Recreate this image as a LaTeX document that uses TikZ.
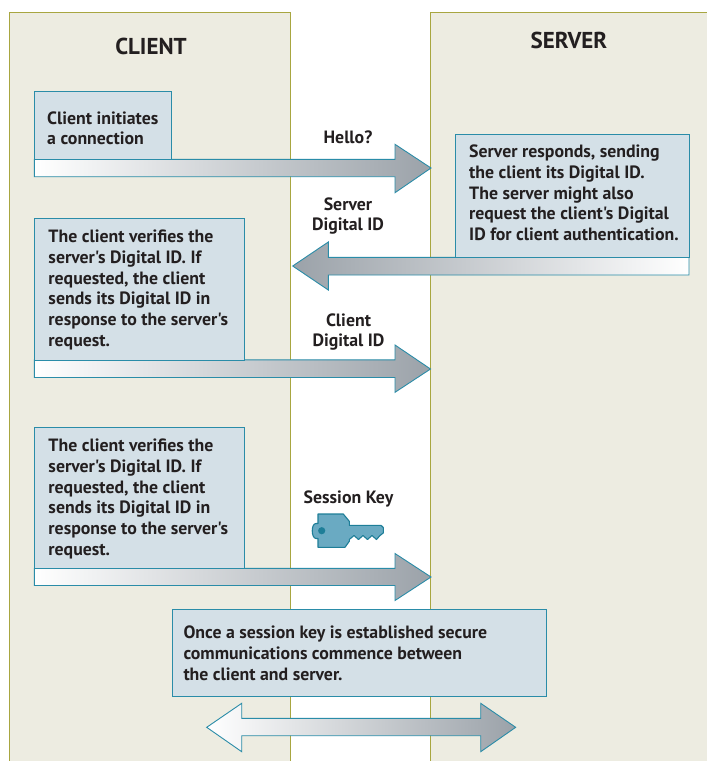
\documentclass[tikz,border=0pt]{standalone}
\usepackage{fontspec}
\defaultfontfeatures{}
\defaultfontfeatures[\rmfamily]{}
\setmainfont{PT Sans}[Ligatures=ResetAll]
\definecolor{panelfill}{HTML}{EDECE1}
\definecolor{panelline}{HTML}{A8A640}
\definecolor{boxfill}{HTML}{D4E0E7}
\definecolor{tealline}{HTML}{2A8CA8}
\definecolor{arrgray}{HTML}{9BA2A9}
\definecolor{keyfill}{HTML}{6AAAC2}
\definecolor{keyline}{HTML}{1E7E98}
\definecolor{txt}{HTML}{231F20}
\newcommand{\sq}{\symbol{"27}}
\tikzset{
  panelline/.style={draw=panelline, line width=0.9pt},
  infobox/.style={fill=boxfill, draw=tealline, line width=0.9pt, anchor=north west, inner sep=0pt},
  bodytext/.style={anchor=base west, inner sep=0pt, align=left, text=txt, font=\fontsize{17.8}{20.7}\selectfont\bfseries},
  lbltext/.style={anchor=base, inner sep=0pt, align=center, text=txt, font=\fontsize{17.8}{20.5}\selectfont\bfseries},
  headtext/.style={anchor=base, inner sep=0pt, text=txt, font=\fontsize{23}{27}\selectfont\bfseries},
  rarrow/.style={draw=tealline, line width=0.9pt, left color=white, right color=arrgray},
  larrow/.style={draw=tealline, line width=0.9pt, left color=arrgray, right color=white},
}
\begin{document}
\begin{tikzpicture}[x=1pt,y=-1pt]
\useasboundingbox (0,0) rectangle (707,761);
\clip (0,0) rectangle (707,761);
\fill[white] (0,0) rectangle (707,761);
% panels
\fill[panelfill] (9.3,12.3) rectangle (290.7,800);
\fill[panelfill] (430,12.3) rectangle (800,800);
\draw[panelline] (9.3,800) -- (9.3,12.3) -- (290.7,12.3) -- (290.7,800);
\draw[panelline] (800,12.3) -- (430,12.3) -- (430,800);
\node[headtext] (hclient) at (151,54) {CLIENT};
\node[headtext] (hserver) at (569,48) {SERVER};

% arrow 1 (Hello?)
\path[rarrow] (34.3,159.3) -- (395,159.3) -- (395,144.3) -- (431,168) -- (395,192.7) -- (395,176.7) -- (34.3,176.7) -- cycle;
\node[infobox, minimum width=136.4pt, minimum height=68.6pt] (b1) at (34.3,90.7) {};
\node[bodytext] (t1) at (47,144.7) {Client initiates\\a connection};
\node[lbltext] (l1) at (348,143.3) {Hello?};

% arrow 2 (Server Digital ID)
\path[larrow] (689,257.3) -- (328.3,257.3) -- (328.3,242) -- (292.7,266) -- (328.3,290) -- (328.3,275) -- (689,275) -- cycle;
\node[infobox, minimum width=234pt, minimum height=123pt] (b2) at (455,134.3) {};
\node[bodytext] (t2) at (469,240.5) {Server responds, sending\\the client its Digital ID.\\The server might also\\request the client\sq s Digital\\ID for client authentication.};
\node[lbltext] (l2) at (348,230.5) {Server\\Digital ID};

% arrow 3 (Client Digital ID)
\path[rarrow] (34.3,359.8) -- (395,359.8) -- (395,345) -- (430.5,369) -- (395,392.3) -- (395,377.5) -- (34.3,377.5) -- cycle;
\node[infobox, minimum width=210pt, minimum height=142.1pt] (b3) at (34.3,217.7) {};
\node[bodytext] (t3) at (48.3,346.2) {The client verifies the\\server\sq s Digital ID. If\\requested, the client\\sends its Digital ID in\\response to the server\sq s\\request.};
\node[lbltext] (l3) at (348.5,346.5) {Client\\Digital ID};

% arrow 4 (Session Key)
\path[rarrow] (34.3,568.3) -- (395,568.3) -- (395,553.5) -- (431,577) -- (395,600.5) -- (395,585.5) -- (34.3,585.5) -- cycle;
\node[infobox, minimum width=210pt, minimum height=141.6pt] (b4) at (34.3,426.7) {};
\node[bodytext] (t4) at (48.3,555.2) {The client verifies the\\server\sq s Digital ID. If\\requested, the client\\sends its Digital ID in\\response to the server\sq s\\request.};
\node[lbltext] (l4) at (348.5,503) {Session Key};

% key
\draw[fill=keyfill, draw=keyline, line width=1.1pt, line join=round]
  (318,514) -- (343.3,514) -- (349.3,521.3) -- (349.3,525.3) -- (381,525.3) -- (383.3,527.5)
  -- (383.3,533) -- (380,535.5) -- (376.5,539.5) -- (372,535.5) -- (367.5,539.5) -- (363,535.5)
  -- (358.5,539.5) -- (354,535.5) -- (349.3,539.5) -- (349.3,541.3) -- (345,547.3) -- (318,547.3)
  -- (318,538.5) -- (316,538.5) .. controls (311,538) and (311,523.5) .. (316,523.5) -- (318,523.5) -- cycle;
\fill[keyline] (321.7,530.7) circle (3.6);

% final box and double arrow
\node[infobox, minimum width=374pt, minimum height=86.4pt] (b5) at (171.7,609.3) {};
\node[bodytext] (t5) at (183.3,680.3) {Once a session key is established secure\\communications commence between\\the client and server.};
\path[rarrow] (206.7,727.3) -- (241.7,703.3) -- (241.7,718.3) -- (480.7,718.3) -- (480.7,703.3) -- (515.7,727.3)
  -- (480.7,751.7) -- (480.7,735.7) -- (241.7,735.7) -- (241.7,751.7) -- cycle;
\end{tikzpicture}
\end{document}
